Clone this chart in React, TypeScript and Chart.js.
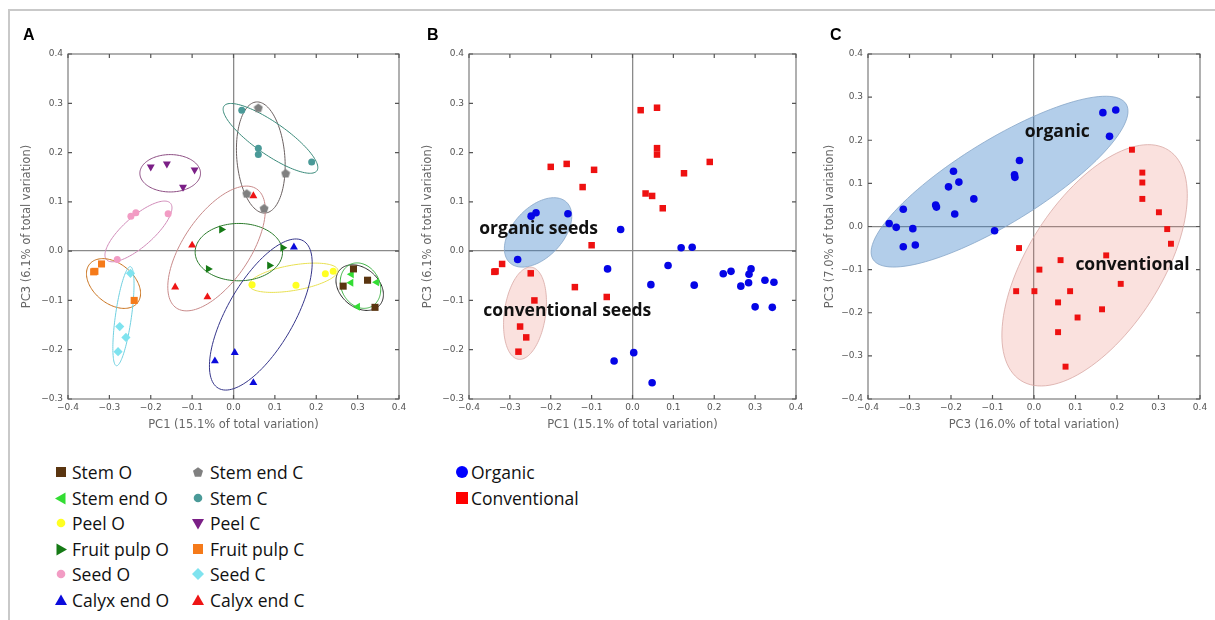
import React, { useEffect, useRef } from "react";
import { Chart, registerables } from "chart.js";
Chart.register(...registerables);

type P = [number, number];
type E = [number, number, number, number, number, number]; // cx, cy, ux, uy, vx, vy

// ---------- Panel A data (PC1 vs PC3) ----------
const stemO: P[] = [[0.265, -0.071], [0.29, -0.036], [0.324, -0.059], [0.342, -0.114]];
const stemEndO: P[] = [[0.285, -0.047], [0.284, -0.064], [0.346, -0.063], [0.3, -0.113]];
const peelO: P[] = [[0.045, -0.068], [0.151, -0.069], [0.222, -0.046], [0.241, -0.041]];
const fruitPulpO: P[] = [[-0.029, 0.044], [-0.061, -0.036], [0.119, 0.007], [0.087, -0.029]];
const seedO: P[] = [[-0.248, 0.071], [-0.236, 0.078], [-0.158, 0.076], [-0.281, -0.017]];
const calyxEndO: P[] = [[0.146, 0.008], [-0.045, -0.223], [0.003, -0.206], [0.048, -0.267]];
const stemEndC: P[] = [[0.06, 0.291], [0.126, 0.158], [0.032, 0.117], [0.074, 0.087]];
const stemC: P[] = [[0.02, 0.286], [0.06, 0.209], [0.06, 0.196], [0.189, 0.181]];
const peelC: P[] = [[-0.2, 0.171], [-0.161, 0.177], [-0.094, 0.165], [-0.122, 0.13]];
const fruitPulpC: P[] = [[-0.335, -0.041], [-0.319, -0.026], [-0.24, -0.1], [-0.338, -0.042]];
const seedC: P[] = [[-0.249, -0.045], [-0.275, -0.153], [-0.26, -0.175], [-0.279, -0.204]];
const calyxEndC: P[] = [[-0.1, 0.012], [-0.141, -0.073], [-0.063, -0.093], [0.048, 0.112]];

const seriesNamesA = ["Stem O", "Stem end O", "Peel O", "Fruit pulp O", "Seed O", "Calyx end O",
  "Stem end C", "Stem C", "Peel C", "Fruit pulp C", "Seed C", "Calyx end C"];
const seriesDataA = [stemO, stemEndO, peelO, fruitPulpO, seedO, calyxEndO,
  stemEndC, stemC, peelC, fruitPulpC, seedC, calyxEndC];
const seriesColorsA = ["#5a3510", "#33dd33", "#ffff22", "#157a15", "#f29cc4", "#0b0bdc",
  "#808080", "#4a9a98", "#7b1f86", "#f57a1a", "#7fe3ef", "#ee1515"];
const seriesStylesA = ["rect", "triangle", "circle", "triangle", "circle", "triangle",
  "pentagon", "circle", "triangle", "rect", "rectRot", "triangle"];
const seriesRotationA = [0, 270, 0, 90, 0, 0, 0, 0, 180, 0, 0, 0];

// confidence ellipses of panel A, one per series (same order)
const ellipsesA: E[] = [
  [0.305, -0.074, 0.0483, -0.0357, -0.0309, -0.0295],
  [0.307, -0.07, 0.042, -0.03, -0.025, -0.035],
  [0.145, -0.054, 0.1071, 0.0156, 0.0052, -0.0253],
  [0.0129, -0.002, 0.1056, 0, 0, 0.0582],
  [-0.2297, 0.04, 0.0774, 0.0572, 0.0239, -0.0229],
  [0.066, -0.1286, 0.1027, 0.1495, 0.0698, -0.0339],
  [0.066, 0.19, -0.0108, 0.1127, 0.0579, 0.0039],
  [0.0894, 0.2288, 0.1123, -0.0656, -0.0221, -0.0267],
  [-0.153, 0.158, 0.0733, 0, 0, 0.0379],
  [-0.29, -0.0657, 0.0578, -0.0393, -0.0305, -0.0317],
  [-0.266, -0.132, 0.0169, 0.1005, 0.0192, -0.0023],
  [-0.041, 0.0054, 0.097, 0.1208, 0.0669, -0.0379],
];
const ellipseColorsA = ["#2a2a2a", "#3cb043", "#e8e050", "#2a7a2a", "#d08ab8", "#35358a",
  "#6a6060", "#3a8a7a", "#8a4a80", "#c8701a", "#70d0e0", "#c88a8a"];

// ---------- Panel B : organic vs conventional (built from panel A) ----------
const organicSeries = [stemO, stemEndO, peelO, fruitPulpO, seedO, calyxEndO];
const conventionalSeries = [stemEndC, stemC, peelC, fruitPulpC, seedC, calyxEndC];
const ellipsesB: E[] = [
  [-0.231, 0.038, 0.0693, 0.0615, 0.0447, -0.0344],
  [-0.263, -0.126, 0.016, 0.0934, 0.05, -0.0059],
];
const notesB = ["organic seeds", "conventional seeds"];
const notesBPos: P[] = [[-0.375, 0.044], [-0.365, -0.122]];

// ---------- Panel C data ----------
const organicC: P[] = [[-0.349, 0.007], [-0.332, -0.002], [-0.315, 0.04], [-0.315, -0.047], [-0.292, -0.005],
  [-0.286, -0.043], [-0.237, 0.05], [-0.235, 0.045], [-0.206, 0.092], [-0.194, 0.128], [-0.191, 0.029],
  [-0.181, 0.103], [-0.145, 0.064], [-0.095, -0.01], [-0.047, 0.12], [-0.046, 0.114], [-0.035, 0.153],
  [0.166, 0.264], [0.197, 0.27], [0.182, 0.209]];
const conventionalC: P[] = [[0.236, 0.178], [0.261, 0.125], [0.261, 0.102], [0.261, 0.064], [0.301, 0.033],
  [0.321, -0.006], [0.33, -0.04], [-0.036, -0.05], [0.064, -0.078], [0.174, -0.067], [0.013, -0.1],
  [-0.043, -0.15], [0.001, -0.15], [0.087, -0.15], [0.058, -0.176], [0.209, -0.133], [0.105, -0.211],
  [0.164, -0.192], [0.058, -0.245], [0.076, -0.325]];
const ellipsesC: E[] = [
  [-0.083, 0.104, 0.305, 0.18, 0.0525, -0.0826],
  [0.146, -0.09, 0.178, 0.267, 0.135, -0.0837],
];
const notesC = ["organic", "conventional"];
const notesCPos: P[] = [[-0.0225, 0.22], [0.0997, -0.09]];

const groupNames = ["Organic", "Conventional"];
const groupColors = ["#0505e6", "#ee1111"];
const groupFill = ["rgba(55,125,200,0.38)", "rgba(232,120,105,0.22)"];
const groupStroke = ["#86a6c8", "#d8a8a4"];

const xTicksRange: P = [-0.4, 0.4];
const yRangeAB: P = [-0.3, 0.4];
const yRangeC: P = [-0.4, 0.4];

const fmt = (v: number) => {
  const r = Math.round(v * 10) / 10;
  return (r < 0 ? "\u2212" : "") + Math.abs(r).toFixed(1);
};
const toXY = (arr: P[]) => arr.map(([x, y]) => ({ x, y }));

type Note = { text: string; x: number; y: number };
type Ell = { e: E; stroke: string; fill?: string; lw: number };

function makePlugins(ells: Ell[], notes: Note[]) {
  const ellipsePlugin = {
    id: "ellipses",
    beforeDatasetsDraw(chart: any) {
      const { ctx, scales } = chart;
      const xs = scales.x, ys = scales.y;
      ctx.save();
      ells.forEach((el) => {
        const [cx, cy, ux, uy, vx, vy] = el.e;
        ctx.beginPath();
        const N = 120;
        for (let i = 0; i <= N; i++) {
          const t = (2 * Math.PI * i) / N;
          const dx = cx + Math.cos(t) * ux + Math.sin(t) * vx;
          const dy = cy + Math.cos(t) * uy + Math.sin(t) * vy;
          const px = xs.getPixelForValue(dx), py = ys.getPixelForValue(dy);
          if (i === 0) ctx.moveTo(px, py); else ctx.lineTo(px, py);
        }
        ctx.closePath();
        if (el.fill) { ctx.fillStyle = el.fill; ctx.fill(); }
        ctx.strokeStyle = el.stroke; ctx.lineWidth = el.lw; ctx.stroke();
      });
      ctx.restore();
    },
  };
  const framePlugin = {
    id: "frame",
    afterDatasetsDraw(chart: any) {
      const { ctx, chartArea, scales } = chart;
      const { left, right, top, bottom } = chartArea;
      ctx.save();
      ctx.strokeStyle = "#7c7c7c"; ctx.lineWidth = 1.2;
      ctx.strokeRect(left, top, right - left, bottom - top);
      ctx.strokeStyle = "#555"; ctx.lineWidth = 1.2;
      ctx.beginPath();
      scales.x.ticks.forEach((t: any) => {
        const px = scales.x.getPixelForValue(t.value);
        ctx.moveTo(px, bottom); ctx.lineTo(px, bottom - 4);
        ctx.moveTo(px, top); ctx.lineTo(px, top + 4);
      });
      scales.y.ticks.forEach((t: any) => {
        const py = scales.y.getPixelForValue(t.value);
        ctx.moveTo(left, py); ctx.lineTo(left + 4, py);
        ctx.moveTo(right, py); ctx.lineTo(right - 4, py);
      });
      ctx.stroke();
      ctx.fillStyle = "#111";
      ctx.font = "bold 17.5px 'Open Sans'";
      ctx.textBaseline = "middle"; ctx.textAlign = "left";
      notes.forEach((n) => {
        ctx.fillText(n.text, scales.x.getPixelForValue(n.x), scales.y.getPixelForValue(n.y));
      });
      ctx.restore();
    },
  };
  return [ellipsePlugin, framePlugin];
}

function makeConfig(datasets: any[], yRange: P, xTitle: string, yTitle: string, padding: any, yTitleTop: number, ells: Ell[], notes: Note[]) {
  const grid = {
    color: (c: any) => (c.tick && Math.abs(c.tick.value) < 1e-9 ? "#8a8a8a" : "rgba(0,0,0,0)"),
    lineWidth: 1.3,
    drawTicks: false,
  };
  return {
    type: "scatter",
    data: { datasets },
    options: {
      responsive: false,
      animation: false,
      devicePixelRatio: 1,
      layout: { padding },
      plugins: { legend: { display: false }, tooltip: { enabled: false } },
      scales: {
        x: {
          type: "linear", min: xTicksRange[0], max: xTicksRange[1],
          afterFit: (s: any) => { s.height = 40; s.paddingLeft = 0; s.paddingRight = 0; },
          ticks: { stepSize: 0.1, callback: (v: any) => fmt(Number(v)), color: "#555", font: { family: "DejaVu Sans", size: 9 }, padding: 3, autoSkip: false, maxRotation: 0 },
          grid, border: { display: false },
          title: { display: true, text: xTitle, color: "#666", font: { family: "DejaVu Sans", size: 11.5 }, padding: { top: 0, bottom: 7 } },
        },
        y: {
          type: "linear", min: yRange[0], max: yRange[1],
          afterFit: (s: any) => { s.width = 48; s.paddingTop = 0; s.paddingBottom = 0; },
          ticks: { stepSize: 0.1, callback: (v: any) => fmt(Number(v)), color: "#555", font: { family: "DejaVu Sans", size: 9 }, padding: 5, autoSkip: false },
          grid, border: { display: false },
          title: { display: true, text: yTitle, color: "#666", font: { family: "DejaVu Sans", size: 11.5 }, padding: { top: yTitleTop, bottom: 0 } },
        },
      },
    },
    plugins: makePlugins(ells, notes),
  };
}

function pentagonCanvas(color: string, size: number) {
  const c = document.createElement("canvas");
  c.width = size; c.height = size;
  const g = c.getContext("2d")!;
  g.fillStyle = color;
  g.beginPath();
  const r = size / 2 - 0.3;
  for (let i = 0; i < 5; i++) {
    const a = -Math.PI / 2 + (i * 2 * Math.PI) / 5;
    const x = size / 2 + r * Math.cos(a), y = size / 2 + 0.5 + r * Math.sin(a);
    if (i === 0) g.moveTo(x, y); else g.lineTo(x, y);
  }
  g.closePath(); g.fill();
  return c;
}

const radiusFor = (style: string) => (style === "rect" ? 5 : style === "circle" ? 3.5 : 4.6);

function Panel(props: { build: () => any; left: number; width: number }) {
  const ref = useRef<HTMLCanvasElement>(null);
  useEffect(() => {
    const chart = new Chart(ref.current!, props.build());
    return () => chart.destroy();
  }, []);
  return (
    <canvas ref={ref} width={props.width} height={440}
      style={{ position: "absolute", left: props.left, top: 0, width: props.width, height: 440 }} />
  );
}

function Marker({ style, color, rot }: { style: string; color: string; rot: number }) {
  const s = 14;
  let shape: any = null;
  if (style === "rect") shape = <rect x={2} y={2} width={10} height={10} fill={color} />;
  else if (style === "circle") shape = <circle cx={7} cy={7} r={4.3} fill={color} />;
  else if (style === "triangle") shape = <polygon points="7,1.5 13,12 1,12" fill={color} transform={`rotate(${rot} 7 7.5)`} />;
  else if (style === "rectRot") shape = <polygon points="7,1 13,7 7,13 1,7" fill={color} />;
  else if (style === "pentagon") {
    const pts = [0, 1, 2, 3, 4].map((i) => {
      const a = -Math.PI / 2 + (i * 2 * Math.PI) / 5;
      return `${7 + 5.3 * Math.cos(a)},${7.5 + 5.3 * Math.sin(a)}`;
    }).join(" ");
    shape = <polygon points={pts} fill={color} />;
  }
  return <svg width={s} height={s} style={{ position: "absolute", left: -7, top: -7 }}>{shape}</svg>;
}

const legendFont = "'Open Sans', 'Noto Sans', sans-serif";
const rowY = [472, 497.5, 523, 548.5, 574, 599.5];

export default function App() {
  const buildA = () => {
    const datasets = seriesDataA.map((d, i) => {
      const st = seriesStylesA[i];
      return {
        label: seriesNamesA[i],
        data: toXY(d),
        pointStyle: st === "pentagon" ? pentagonCanvas(seriesColorsA[i], 10) : st,
        pointRotation: seriesRotationA[i],
        pointRadius: radiusFor(st),
        backgroundColor: seriesColorsA[i],
        borderColor: seriesColorsA[i],
        borderWidth: 0,
      };
    });
    const ells: Ell[] = ellipsesA.map((e, i) => ({ e, stroke: ellipseColorsA[i], lw: 1 }));
    return makeConfig(datasets, yRangeAB, "PC1 (15.1% of total variation)", "PC3 (6.1% of total variation)",
      { left: 20, right: 11, top: 54, bottom: 1 }, 0, ells, []);
  };
  const buildB = () => {
    const datasets = [
      { label: groupNames[0], data: toXY(organicSeries.flat() as P[]), pointStyle: "circle", pointRadius: 3.8, backgroundColor: groupColors[0], borderWidth: 0 },
      { label: groupNames[1], data: toXY(conventionalSeries.flat() as P[]), pointStyle: "rect", pointRadius: 4.6, backgroundColor: groupColors[1], borderWidth: 0 },
    ];
    const ells: Ell[] = ellipsesB.map((e, i) => ({ e, stroke: groupStroke[i], fill: groupFill[i], lw: 0.8 }));
    const notes = notesB.map((t, i) => ({ text: t, x: notesBPos[i][0], y: notesBPos[i][1] }));
    return makeConfig(datasets, yRangeAB, "PC1 (15.1% of total variation)", "PC3 (6.1% of total variation)",
      { left: 11, right: 14, top: 54, bottom: 1 }, 0, ells, notes);
  };
  const buildC = () => {
    const datasets = [
      { label: groupNames[0], data: toXY(organicC), pointStyle: "circle", pointRadius: 3.8, backgroundColor: groupColors[0], borderWidth: 0 },
      { label: groupNames[1], data: toXY(conventionalC), pointStyle: "rect", pointRadius: 4.2, backgroundColor: groupColors[1], borderWidth: 0 },
    ];
    const ells: Ell[] = ellipsesC.map((e, i) => ({ e, stroke: groupStroke[i], fill: groupFill[i], lw: 0.8 }));
    const notes = notesC.map((t, i) => ({ text: t, x: notesCPos[i][0], y: notesCPos[i][1] }));
    return makeConfig(datasets, yRangeC, "PC3 (16.0% of total variation)", "PC3 (7.0% of total variation)",
      { left: 10, right: 15, top: 54, bottom: 1 }, 3, ells, notes);
  };

  const letter = (t: string, x: number) => (
    <div style={{ position: "absolute", left: x, top: 25, font: "bold 16px 'Liberation Sans', Arial, sans-serif", lineHeight: "20px", color: "#000" }}>{t}</div>
  );

  return (
    <div style={{ position: "absolute", left: 0, top: 0, width: 1215, height: 620, background: "#fff", overflow: "hidden" }}>
      <div style={{ position: "absolute", left: 8, top: 9, width: 1300, height: 700, borderTop: "2px solid #c9c9c9", borderLeft: "2px solid #c9c9c9" }} />
      <Panel build={buildA} left={0} width={410} />
      <Panel build={buildB} left={410} width={400} />
      <Panel build={buildC} left={810} width={405} />
      {letter("A", 23)}
      {letter("B", 427)}
      {letter("C", 830)}
      {seriesNamesA.map((name, i) => {
        const col = i < 6 ? 0 : 1;
        const row = i % 6;
        const mx = col === 0 ? 60.7 : 198;
        const tx = col === 0 ? 72 : 210;
        return (
          <React.Fragment key={name}>
            <div style={{ position: "absolute", left: mx, top: rowY[row] }}>
              <Marker style={seriesStylesA[i]} color={seriesColorsA[i]} rot={seriesRotationA[i]} />
            </div>
            <div style={{ position: "absolute", left: tx, top: rowY[row] - 12, height: 24, lineHeight: "24px", font: `17.5px ${legendFont}`, color: "#111", whiteSpace: "nowrap" }}>{name}</div>
          </React.Fragment>
        );
      })}
      {groupNames.map((name, i) => (
        <React.Fragment key={name}>
          <div style={{ position: "absolute", left: 462, top: rowY[i] }}>
            <svg width={14} height={14} style={{ position: "absolute", left: -7, top: -7 }}>
              {i === 0 ? <circle cx={7} cy={7} r={6} fill="#0000ff" /> : <rect x={1} y={1} width={12} height={12} fill="#ff0000" />}
            </svg>
          </div>
          <div style={{ position: "absolute", left: 471, top: rowY[i] - 12, height: 24, lineHeight: "24px", font: `17.5px ${legendFont}`, color: "#111", whiteSpace: "nowrap" }}>{name}</div>
        </React.Fragment>
      ))}
    </div>
  );
}
